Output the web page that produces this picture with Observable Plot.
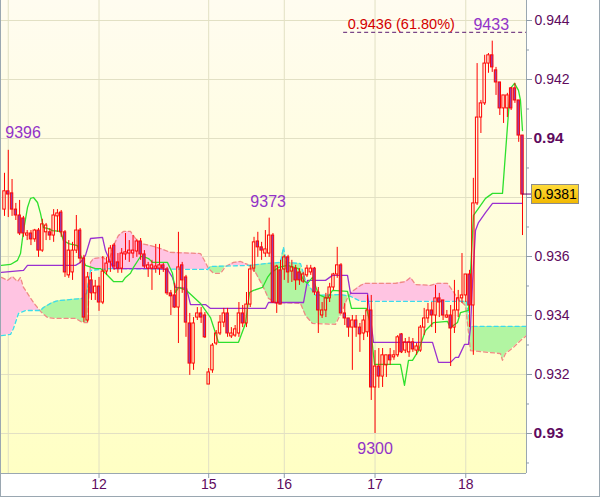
<!DOCTYPE html>
<html>
<head>
<meta charset="utf-8">
<script src="https://cdn.jsdelivr.net/npm/d3@7"></script>
<script src="https://cdn.jsdelivr.net/npm/@observablehq/plot@0.6"></script>
<style>
html,body{margin:0;padding:0;background:#fff;}
#chart svg{display:block;}
</style>
</head>
<body>
<div id="chart"></div>
<script>
// Hourly candles (index = hour from start)
const open = [0.93759,0.93821,0.93814,0.93759,0.93739,0.93729,0.93671,0.93678,0.93658,0.93688,
0.93620,0.93682,0.93682,0.93671,0.93736,0.93749,0.93682,0.93536,0.93546,0.93620,
0.93688,0.93593,0.93383,0.93519,0.93475,0.93498,0.93444,0.93549,0.93580,0.93637,
0.93580,0.93559,0.93607,0.93610,0.93610,0.93617,0.93651,0.93607,0.93559,0.93559,
0.93559,0.93559,0.93570,0.93556,0.93475,0.93468,0.93427,0.93570,0.93529,0.93373,
0.93237,0.93393,0.93407,0.93400,0.93166,0.93214,0.93305,0.93339,0.93376,0.93407,
0.93329,0.93332,0.93339,0.93407,0.93373,0.93437,0.93559,0.93651,0.93631,0.93610,
0.93610,0.93671,0.93441,0.93553,0.93556,0.93597,0.93549,0.93559,0.93546,0.93515,
0.93536,0.93546,0.93559,0.93478,0.93400,0.93417,0.93458,0.93495,0.93539,0.93570,
0.93407,0.93390,0.93359,0.93383,0.93359,0.93339,0.93343,0.93417,0.93156,0.93227,
0.93193,0.93231,0.93265,0.93258,0.93265,0.93336,0.93281,0.93275,0.93309,0.93281,
0.93281,0.93359,0.93390,0.93417,0.93400,0.93458,0.93451,0.93393,0.93400,0.93359,
0.93417,0.93458,0.93468,0.93539,0.93434,0.93780,0.94071,0.94119,0.94254,0.94282,
0.94231,0.94190,0.94102,0.94102,0.94170,0.94170,0.94129,0.94010];
const high = [0.93882,0.93960,0.93861,0.93780,0.93790,0.93736,0.93688,0.93688,0.93692,0.93695,
0.93726,0.93712,0.93695,0.93759,0.93759,0.93756,0.93688,0.93654,0.93648,0.93739,
0.93695,0.93604,0.93546,0.93546,0.93519,0.93529,0.93600,0.93597,0.93637,0.93644,
0.93610,0.93627,0.93678,0.93654,0.93671,0.93658,0.93661,0.93620,0.93580,0.93587,
0.93641,0.93641,0.93576,0.93563,0.93485,0.93509,0.93682,0.93580,0.93536,0.93407,
0.93393,0.93427,0.93427,0.93410,0.93220,0.93305,0.93349,0.93400,0.93424,0.93424,
0.93359,0.93366,0.93444,0.93434,0.93478,0.93570,0.93665,0.93682,0.93648,0.93688,
0.93730,0.93678,0.93570,0.93587,0.93604,0.93604,0.93587,0.93570,0.93559,0.93546,
0.93570,0.93570,0.93563,0.93495,0.93444,0.93475,0.93509,0.93543,0.93631,0.93576,
0.93441,0.93390,0.93400,0.93400,0.93373,0.93400,0.93468,0.93468,0.93281,0.93288,
0.93288,0.93265,0.93288,0.93281,0.93332,0.93339,0.93322,0.93326,0.93322,0.93305,
0.93366,0.93424,0.93441,0.93444,0.93502,0.93475,0.93451,0.93417,0.93434,0.93519,
0.93485,0.93610,0.93539,0.93553,0.93865,0.94254,0.94129,0.94282,0.94288,0.94330,
0.94241,0.94190,0.94146,0.94153,0.94173,0.94187,0.94129,0.94010];
const low = [0.93736,0.93732,0.93736,0.93722,0.93671,0.93665,0.93654,0.93637,0.93648,0.93597,
0.93614,0.93654,0.93654,0.93648,0.93682,0.93665,0.93529,0.93526,0.93519,0.93610,
0.93576,0.93376,0.93376,0.93451,0.93451,0.93414,0.93437,0.93536,0.93546,0.93553,
0.93543,0.93543,0.93587,0.93580,0.93593,0.93597,0.93587,0.93559,0.93529,0.93485,
0.93543,0.93536,0.93546,0.93468,0.93400,0.93424,0.93305,0.93475,0.93326,0.93197,
0.93214,0.93383,0.93373,0.93322,0.93166,0.93204,0.93298,0.93332,0.93359,0.93326,
0.93322,0.93326,0.93326,0.93359,0.93359,0.93427,0.93546,0.93597,0.93587,0.93597,
0.93597,0.93441,0.93407,0.93437,0.93519,0.93509,0.93512,0.93485,0.93502,0.93509,
0.93529,0.93536,0.93468,0.93339,0.93390,0.93393,0.93444,0.93485,0.93526,0.93407,
0.93366,0.93326,0.93214,0.93326,0.93275,0.93315,0.93326,0.93112,0.93000,0.93153,
0.93156,0.93190,0.93231,0.93248,0.93258,0.93271,0.93271,0.93258,0.93275,0.93265,
0.93275,0.93332,0.93373,0.93359,0.93339,0.93393,0.93383,0.93390,0.93227,0.93339,
0.93393,0.93441,0.93444,0.93359,0.93265,0.93773,0.94017,0.94112,0.94221,0.94224,
0.94146,0.94078,0.94051,0.94071,0.94095,0.94119,0.93987,0.93671];
const close = [0.93821,0.93810,0.93759,0.93739,0.93678,0.93678,0.93678,0.93658,0.93688,0.93620,
0.93709,0.93705,0.93671,0.93739,0.93746,0.93682,0.93546,0.93620,0.93620,0.93688,
0.93593,0.93393,0.93529,0.93475,0.93498,0.93444,0.93549,0.93576,0.93627,0.93566,
0.93559,0.93610,0.93614,0.93620,0.93620,0.93651,0.93607,0.93566,0.93570,0.93570,
0.93566,0.93570,0.93559,0.93475,0.93465,0.93427,0.93563,0.93519,0.93376,0.93237,
0.93373,0.93407,0.93393,0.93326,0.93207,0.93298,0.93339,0.93376,0.93407,0.93339,
0.93339,0.93353,0.93407,0.93373,0.93437,0.93556,0.93648,0.93631,0.93620,0.93624,
0.93671,0.93444,0.93566,0.93437,0.93597,0.93546,0.93563,0.93519,0.93519,0.93539,
0.93559,0.93559,0.93478,0.93417,0.93417,0.93458,0.93495,0.93539,0.93570,0.93407,
0.93390,0.93359,0.93383,0.93359,0.93336,0.93383,0.93417,0.93156,0.93227,0.93193,
0.93265,0.93265,0.93248,0.93265,0.93326,0.93275,0.93309,0.93309,0.93285,0.93295,
0.93359,0.93390,0.93417,0.93400,0.93458,0.93444,0.93400,0.93400,0.93356,0.93417,
0.93458,0.93468,0.93539,0.93434,0.93780,0.94071,0.94119,0.94254,0.94282,0.94241,
0.94190,0.94102,0.94146,0.94146,0.94102,0.94129,0.94010,0.93810];

// Indicator lines: breakpoints (hour index, price)
const tenkanIdx = [-0.8,1.59,3.44,4.23,5.03,6.08,6.88,7.67,8.73,9.52,10.31,11.37,12.7,14.81,15.6,16.93,19.31,20.1,21.42,24.07,25.39,26.71,28.83,31.21,32,33.32,34.12,35.97,36.76,38.09,39.14,43.11,44.43,45.23,46.02,48.14,51.84,54.48,56.6,61.89,63.74,64.8,65.86,68.24,69.56,70.35,72.47,74.85,77.76,79.08,80.14,81.46,83.05,85.43,86.75,90.72,91.77,95.74,96.54,97.33,97.86,104.73,105.79,106.85,107.91,109.49,111.35,113.46,117.16,117.96,119.81,120.6,122.72,124.04,125.36,127.22,129.07,131.71,133.3,133.83,134.88,135.94,136.47,137];
const tenkanVal = [0.93570,0.93573,0.93587,0.93610,0.93688,0.93766,0.93797,0.93800,0.93783,0.93746,0.93698,0.93695,0.93688,0.93685,0.93654,0.93644,0.93637,0.93604,0.93570,0.93559,0.93559,0.93543,0.93515,0.93515,0.93529,0.93543,0.93563,0.93600,0.93600,0.93593,0.93580,0.93580,0.93543,0.93478,0.93495,0.93485,0.93441,0.93393,0.93309,0.93309,0.93373,0.93478,0.93485,0.93495,0.93529,0.93543,0.93563,0.93570,0.93559,0.93519,0.93509,0.93529,0.93471,0.93458,0.93485,0.93482,0.93424,0.93424,0.93383,0.93298,0.93234,0.93234,0.93163,0.93248,0.93248,0.93281,0.93349,0.93376,0.93380,0.93359,0.93376,0.93410,0.93417,0.93739,0.93763,0.93797,0.93814,0.93814,0.94088,0.94170,0.94187,0.94163,0.94129,0.94027];
const kijunIdx = [-0.8,5.03,6.08,18.78,20.1,21.42,22.75,25.92,26.71,28.04,28.83,40.47,43.11,44.43,45.23,48.14,49.19,53.16,54.48,69.03,69.82,79.08,80.14,84.9,86.75,90.72,91.51,96.01,97.59,113.2,114.78,117.96,119.28,120.07,121.66,122.72,123.25,123.78,124.57,125.36,127.22,129.07,137];
const kijunVal = [0.93546,0.93553,0.93570,0.93570,0.93580,0.93604,0.93661,0.93665,0.93620,0.93580,0.93559,0.93559,0.93556,0.93529,0.93495,0.93492,0.93437,0.93437,0.93424,0.93424,0.93444,0.93444,0.93519,0.93519,0.93536,0.93536,0.93475,0.93475,0.93309,0.93309,0.93241,0.93241,0.93258,0.93258,0.93302,0.93302,0.93359,0.93509,0.93688,0.93715,0.93749,0.93780,0.93780];
const spanAIdx = [-0.8,1.59,2.38,3.7,5.55,9.52,10.31,12.17,13.49,14.81,20.63,21.69,22.75,25.39,28.04,53.69,54.48,65.06,69.03,72.99,73.79,74.58,78.29,79.61,82.25,88.87,91.51,94.15,122.19,123.25,138.06];
const spanAVal = [0.93332,0.93336,0.93356,0.93407,0.93417,0.93417,0.93427,0.93441,0.93448,0.93451,0.93458,0.93475,0.93553,0.93556,0.93559,0.93556,0.93566,0.93570,0.93576,0.93580,0.93631,0.93580,0.93576,0.93519,0.93468,0.93471,0.93465,0.93448,0.93448,0.93363,0.93363];
const spanBIdx = [-0.8,0.79,2.12,3.44,4.23,5.03,6.08,7.67,9.52,11.37,13.49,18.78,20.63,21.95,22.75,23.54,26.18,27.51,28.83,30.15,31.47,33.32,34.65,35.97,38.61,41.26,43.9,51.84,53.16,53.95,55.28,57.13,58.45,60.57,62.42,64.27,66.38,68.24,69.82,71.67,78.29,79.61,81.46,87.54,89.39,90.72,92.04,94.15,95.48,103.41,106.06,107.38,108.7,112.67,114.52,117.16,118.49,120.07,121.93,123.25,131.18,131.71,132.5,134.62,136.47,138.06];
const spanBVal = [0.93529,0.93519,0.93532,0.93515,0.93529,0.93495,0.93475,0.93444,0.93414,0.93393,0.93390,0.93390,0.93376,0.93376,0.93580,0.93593,0.93597,0.93580,0.93637,0.93671,0.93685,0.93685,0.93661,0.93644,0.93637,0.93627,0.93614,0.93610,0.93580,0.93559,0.93543,0.93543,0.93566,0.93580,0.93583,0.93573,0.93546,0.93502,0.93458,0.93444,0.93441,0.93400,0.93373,0.93370,0.93417,0.93461,0.93482,0.93502,0.93509,0.93509,0.93515,0.93529,0.93505,0.93502,0.93509,0.93509,0.93485,0.93454,0.93434,0.93281,0.93271,0.93248,0.93271,0.93292,0.93315,0.93332];

// Axis ticks and labels
const dayGridIdx = [1, 25, 54, 74, 98, 122];
const dayTickIdx = [25, 54, 74, 98, 122];
const dayTickLabels = ["12", "15", "16", "17", "18"];
const priceMajorTicks = [0.930, 0.932, 0.934, 0.936, 0.938, 0.940, 0.942, 0.944];
const priceMinorTicks = [0.929, 0.931, 0.933, 0.935, 0.937, 0.939, 0.941, 0.943];
const priceLabelTicks = [0.932, 0.934, 0.936, 0.942, 0.944];
const priceBoldTicks = [0.930, 0.940];

// Annotations
const extremesAbove = [{i: 70, v: 0.93730, label: "9373"}, {i: 129, v: 0.94330, label: "9433"}];
const extremesLeft = [{i: 1, v: 0.93960, label: "9396"}];
const extremesBelow = [{i: 98, v: 0.93000, label: "9300"}];
const fibLevel = 0.9436, fibLabel = "0.9436 (61.80%)", fibStartIdx = 89.7;
const lastClose = 0.9381, lastCloseLabel = "0.9381";

const xDomain = [-0.7934, 138.06];
const yDomain = [0.928644, 0.944678];
const W = 600, H = 497, mL = 1, mR = 74, mT = 0, mB = 24;
const idxPerPx = (xDomain[1] - xDomain[0]) / (W - mL - mR);
const valPerPx = (yDomain[1] - yDomain[0]) / (H - mT - mB);

const candles = open.map((o, i) => ({i, o, h: high[i], l: low[i], c: close[i]}));
const upC = candles.filter(d => d.c >= d.o);
const dnC = candles.filter(d => d.c < d.o);
const pts = (idx, val) => idx.map((i, k) => ({i, v: val[k]}));
const tenkan = pts(tenkanIdx, tenkanVal), kijun = pts(kijunIdx, kijunVal);
const spanA = pts(spanAIdx, spanAVal), spanB = pts(spanBIdx, spanBVal);

function interp(xs, vs, x) {
  if (x <= xs[0]) return vs[0];
  if (x >= xs[xs.length - 1]) return vs[vs.length - 1];
  const k = d3.bisectRight(xs, x);
  const t = (x - xs[k - 1]) / (xs[k] - xs[k - 1]);
  return vs[k - 1] + t * (vs[k] - vs[k - 1]);
}
const grid = Array.from(new Set([...spanAIdx, ...spanBIdx])).sort((a, b) => a - b);
const cx = [];
for (let k = 0; k < grid.length; k++) {
  const x0 = grid[k];
  cx.push(x0);
  if (k < grid.length - 1) {
    const x1 = grid[k + 1];
    const d0 = interp(spanAIdx, spanAVal, x0) - interp(spanBIdx, spanBVal, x0);
    const d1 = interp(spanAIdx, spanAVal, x1) - interp(spanBIdx, spanBVal, x1);
    if (d0 * d1 < 0) cx.push(x0 + (x1 - x0) * d0 / (d0 - d1));
  }
}
const cloud = cx.map(x => ({i: x, a: interp(spanAIdx, spanAVal, x), b: interp(spanBIdx, spanBVal, x)}));
const fmt = d => String(+d.toFixed(3));
const axisCol = "#8f9da8", labelCol = "#5e0a5e", extCol = "#9232c8", gridCol = "#e2e0c4";
const xEnd = xDomain[1], yEnd = yDomain[0];

const chart = Plot.plot({
  width: W, height: H,
  marginTop: mT, marginLeft: mL, marginRight: mR, marginBottom: mB,
  style: {fontFamily: "'Liberation Sans', Arial, sans-serif", background: "#fff", overflow: "visible"},
  x: {domain: xDomain, axis: null},
  y: {domain: yDomain, axis: null},
  marks: [
    Plot.ruleY(priceMajorTicks, {y: d => d, stroke: gridCol}),
    Plot.ruleX(dayGridIdx, {x: d => d, stroke: gridCol}),
    Plot.areaY(cloud, {x: "i", y1: "a", y2: d => Math.max(d.a, d.b), fill: "#ffc4e2"}),
    Plot.areaY(cloud, {x: "i", y1: "b", y2: d => Math.max(d.a, d.b), fill: "#b2f5a2"}),
    Plot.line(spanB, {x: "i", y: "v", stroke: "#f08a84", strokeWidth: 1.3, strokeDasharray: "4,3"}),
    Plot.line(spanA, {x: "i", y: "v", stroke: "#3cdcec", strokeWidth: 1.3, strokeDasharray: "4,3"}),
    Plot.line(kijun, {x: "i", y: "v", stroke: "#9a30d0", strokeWidth: 1.3}),
    Plot.line(tenkan, {x: "i", y: "v", stroke: "#2ee02e", strokeWidth: 1.3}),
    Plot.ruleX(candles, {x: "i", y1: "h", y2: d => Math.max(d.o, d.c), stroke: "#ff0000"}),
    Plot.ruleX(candles, {x: "i", y1: "l", y2: d => Math.min(d.o, d.c), stroke: "#ff0000"}),
    Plot.rect(upC, {x1: d => d.i - 0.32, x2: d => d.i + 0.32, y1: "o", y2: "c", fill: "none", stroke: "#ff0000"}),
    Plot.rect(dnC, {x1: d => d.i - 0.32, x2: d => d.i + 0.32, y1: "o", y2: "c", fill: "#9b3ca8", stroke: "#ff0000"}),
    Plot.ruleY([{v: fibLevel, s: fibStartIdx, e: xEnd}], {y: "v", x1: "s", x2: "e", stroke: "#5a1a70", strokeDasharray: "4,3"}),
    Plot.text([{v: fibLevel, s: fibStartIdx}], {x: "s", y: "v", text: () => fibLabel, textAnchor: "start", dx: 4, dy: -8, fill: "#d40000", fontSize: 14.5}),
    Plot.text(extremesAbove, {x: "i", y: "v", text: "label", dy: -16, dx: -1, fill: extCol, fontSize: 16}),
    Plot.text(extremesLeft, {x: "i", y: "v", text: "label", dy: -17, dx: -3, textAnchor: "start", fill: extCol, fontSize: 16}),
    Plot.text(extremesBelow, {x: "i", y: "v", text: "label", dy: 15, fill: extCol, fontSize: 16}),
    // frame edges
    Plot.ruleX([xEnd], {x: d => d, stroke: "#9aa7b1"}),
    Plot.ruleY([yEnd], {y: d => d, stroke: "#9aa7b1"}),
    // right axis ticks and labels
    Plot.ruleY(priceMajorTicks, {y: d => d, x1: () => xEnd, x2: () => xEnd + 6 * idxPerPx, stroke: axisCol}),
    Plot.ruleY(priceMinorTicks, {y: d => d, x1: () => xEnd, x2: () => xEnd + 3 * idxPerPx, stroke: axisCol}),
    Plot.text(priceLabelTicks, {y: d => d, frameAnchor: "right", dx: 8, textAnchor: "start", text: fmt, fill: labelCol, fontSize: 14}),
    Plot.text(priceBoldTicks, {y: d => d, frameAnchor: "right", dx: 7, textAnchor: "start", text: fmt, fill: labelCol, fontSize: 15.5, fontWeight: "bold"}),
    // bottom axis ticks and labels
    Plot.ruleX(dayTickIdx, {x: d => d, y1: () => yEnd, y2: () => yEnd - 5 * valPerPx, stroke: axisCol}),
    Plot.text(dayTickIdx, {x: d => d, frameAnchor: "bottom", dy: 15, text: d => dayTickLabels[dayTickIdx.indexOf(d)], fill: labelCol, fontSize: 14})
  ]
});

document.getElementById("chart").appendChild(chart);

// Decorations positioned through Plot's own scales
const svg = d3.select(chart);
const xs = chart.scale("x"), ys = chart.scale("y");
const defs = svg.insert("defs", ":first-child");
const bg = defs.append("linearGradient").attr("id", "bgGrad").attr("x1", 0).attr("y1", 0).attr("x2", 0).attr("y2", 1);
bg.append("stop").attr("offset", "0%").attr("stop-color", "#fffcf0");
bg.append("stop").attr("offset", "100%").attr("stop-color", "#ffffc4");
const pg = defs.append("linearGradient").attr("id", "pxGrad").attr("x1", 0).attr("y1", 0).attr("x2", 0).attr("y2", 1);
pg.append("stop").attr("offset", "0%").attr("stop-color", "#ffdc3c");
pg.append("stop").attr("offset", "100%").attr("stop-color", "#f2b800");
const px0 = xs.apply(xDomain[0]), px1 = xs.apply(xDomain[1]), pyTop = ys.apply(yDomain[1]), pyBot = ys.apply(yDomain[0]);
const bgRect = document.createElementNS("http://www.w3.org/2000/svg", "rect");
bgRect.setAttribute("x", px0); bgRect.setAttribute("y", pyTop);
bgRect.setAttribute("width", px1 - px0); bgRect.setAttribute("height", pyBot - pyTop);
bgRect.setAttribute("fill", "url(#bgGrad)");
chart.insertBefore(bgRect, defs.node().nextSibling);
const yp = ys.apply(lastClose);
svg.append("line").attr("x1", xs.apply(close.length - 1)).attr("x2", px1 + 6).attr("y1", yp).attr("y2", yp).attr("stroke", "#660066");
svg.append("rect").attr("x", px1 + 5.5).attr("y", Math.round(yp) - 9.5).attr("width", 47).attr("height", 19).attr("fill", "url(#pxGrad)").attr("stroke", "#8c8c8c");
svg.append("text").attr("x", px1 + 8).attr("y", yp).attr("dy", "0.36em").attr("text-anchor", "start").attr("font-size", 14).attr("fill", "#000").text(lastCloseLabel);
svg.append("line").attr("x1", 0.5).attr("x2", 0.5).attr("y1", 0).attr("y2", H).attr("stroke", "#9aa7b1");
svg.append("line").attr("x1", W - 0.5).attr("x2", W - 0.5).attr("y1", 0).attr("y2", H).attr("stroke", "#9aa7b1");
svg.append("line").attr("x1", 0).attr("x2", W).attr("y1", H - 0.5).attr("y2", H - 0.5).attr("stroke", "#9aa7b1");
</script>
</body>
</html>
